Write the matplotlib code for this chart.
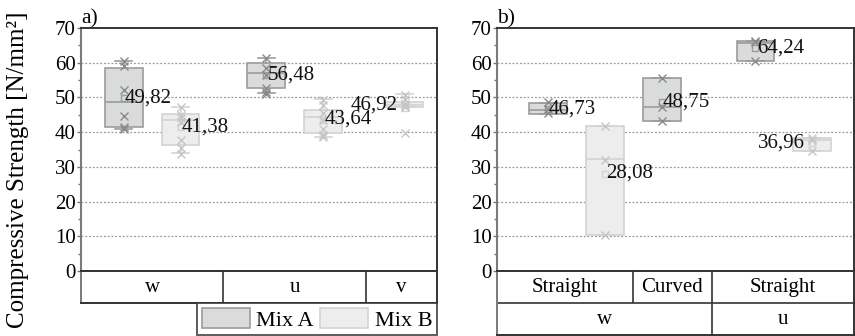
import matplotlib
matplotlib.use("Agg")
import matplotlib.pyplot as plt
from matplotlib.patches import Patch
from matplotlib.ticker import MultipleLocator

plt.rcParams['font.family'] = ['Liberation Serif', 'DejaVu Serif']

# ---------------- data ----------------
mixes = ["Mix A", "Mix B"]

# panel a)
left_groups = ["w", "u", "v"]
left_mix = ["Mix A", "Mix B", "Mix A", "Mix B", "Mix B"]
left_q1 = [41.4, 36.3, 52.6, 39.7, 47.1]
left_med = [48.6, 43.5, 57.1, 44.5, 47.9]
left_q3 = [58.4, 45.2, 59.9, 46.4, 48.8]
left_lo = [41.0, 33.9, 51.2, 38.5, 47.1]
left_hi = [60.6, 47.3, 61.5, 49.5, 51.0]
left_mean = [49.82, 41.38, 56.48, 43.64, 46.92]
left_points = [
    [60.5, 59.0, 52.2, 44.7, 41.4, 41.0],
    [47.2, 45.0, 44.0, 43.0, 37.8, 35.4, 33.7],
    [61.5, 58.4, 56.6, 52.6, 51.5, 51.0],
    [49.3, 47.7, 45.5, 43.5, 41.0, 39.2, 38.5],
    [50.8, 49.5, 48.2, 47.6, 47.1, 39.7],
]

# panel b)
right_row1 = ["Straight", "Curved", "Straight"]
right_row2 = ["w", "u"]
right_mix = ["Mix A", "Mix B", "Mix A", "Mix A", "Mix B"]
right_q1 = [45.3, 10.4, 43.2, 60.4, 34.5]
right_med = [46.4, 32.2, 47.2, 65.8, 37.8]
right_q3 = [48.5, 41.8, 55.7, 66.2, 38.2]
right_mean = [46.73, 28.08, 48.75, 64.24, 36.96]
right_points = [
    [48.8, 46.6, 45.6],
    [41.8, 32.0, 10.4],
    [55.7, 47.3, 43.3],
    [66.3, 65.9, 60.5],
    [38.3, 37.6, 34.6],
]

# ---------------- layout / style ----------------
left_pos = [0.75, 1.75, 3.25, 4.25, 5.68]
left_bounds = [0, 2.5, 5.0, 6.25]
left_label_ha = ["left", "left", "left", "left", "right"]
left_label_dy = [0.0, 0.0, 0.0, 0.0, 1.0]

right_pos = [0.895, 1.895, 2.895, 4.54, 5.53]
right_bounds1 = [0, 2.386, 3.772, 6.27]
right_bounds2 = [0, 3.772, 6.27]
right_label_ha = ["left", "left", "left", "left", "right"]
right_label_dy = [0.0, 0.0, 0.0, 0.0, 0.0]

fill = {"Mix A": "#d9dcdb", "Mix B": "#ededed"}
edge = {"Mix A": "#9c9c9c", "Mix B": "#d3d3d3"}
mark = {"Mix A": "#8a8a8a", "Mix B": "#c6c6c6"}

W, H = 855, 336
fig = plt.figure(figsize=(8.55, 3.36), dpi=100)

FS = 15
dark = "#333333"


def fx(px):
    return px / W


def fy(py):
    return (H - py) / H


def make_panel(rect, pos, bounds, q1, med, q3, lo, hi, mean, pts, mixl, ha_list, dy_list, letter):
    ax = fig.add_axes(rect)
    ax.set_xlim(bounds[0], bounds[-1])
    ax.set_ylim(0, 70)
    for i in range(len(pos)):
        m = mixl[i]
        st = [dict(q1=q1[i], med=med[i], q3=q3[i], whislo=lo[i], whishi=hi[i],
                   mean=mean[i], fliers=[])]
        ax.bxp(st, positions=[pos[i]], widths=0.66, patch_artist=True,
               showmeans=True, showfliers=False, capwidths=[0.3],
               boxprops=dict(facecolor=fill[m], edgecolor=edge[m], linewidth=1.2),
               medianprops=dict(color=edge[m], linewidth=1.2),
               whiskerprops=dict(color=edge[m], linewidth=1.2),
               capprops=dict(color=edge[m], linewidth=1.2),
               meanprops=dict(marker='s', markerfacecolor='none',
                              markeredgecolor=edge[m], markersize=4.5),
               manage_ticks=False)
        ax.plot([pos[i]] * len(pts[i]), pts[i], linestyle='none', marker='x',
                color=mark[m], markersize=6, markeredgewidth=1.0, zorder=4)
        lab = f"{mean[i]:.2f}".replace('.', ',')
        dx = 0.02 if ha_list[i] == "left" else -0.12
        ax.text(pos[i] + dx, mean[i] + dy_list[i], lab, ha=ha_list[i], va='center',
                fontsize=FS, color='#111111', zorder=5)
    ax.set_xticks([])
    ax.yaxis.set_major_locator(MultipleLocator(10))
    ax.yaxis.set_minor_locator(MultipleLocator(5))
    ax.tick_params(axis='y', which='major', length=3, width=1, color='#777777',
                   labelsize=FS, pad=1)
    ax.tick_params(axis='y', which='minor', length=2, width=1, color='#777777')
    for y in range(10, 70, 10):
        ax.axhline(y, color='#9a9a9a', linestyle=(0, (1.5, 1.5)), linewidth=0.9, zorder=0)
    ax.spines['left'].set_color('#7a7a7a')
    ax.spines['left'].set_linewidth(1.5)
    for s in ['top', 'bottom', 'right']:
        ax.spines[s].set_color(dark)
        ax.spines[s].set_linewidth(1.4)
    ax.text(0.0, 1.0, letter, transform=ax.transAxes, ha='left', va='bottom',
            fontsize=15.5)
    return ax


def make_row(ax, bounds, labels, y0, y1):
    for b in bounds[1:-1]:
        ax.vlines(b, y0, y1, color=dark, linewidth=1.2)
    for i, lab in enumerate(labels):
        ax.text((bounds[i] + bounds[i + 1]) / 2, (y0 + y1) / 2 - 0.02, lab,
                ha='center', va='center', fontsize=FS)


def make_table(rect, bounds_list, labels_list):
    ax = fig.add_axes(rect)
    ax.set_xlim(bounds_list[0][0], bounds_list[0][-1])
    n = len(labels_list)
    ax.set_ylim(0, n)
    ax.set_xticks([])
    ax.set_yticks([])
    for s in ax.spines.values():
        s.set_color(dark)
        s.set_linewidth(1.4)
    ax.spines['left'].set_color('#7a7a7a')
    for r in range(n):
        y1 = n - r
        make_row(ax, bounds_list[r], labels_list[r], y1 - 1, y1)
        if r > 0:
            ax.hlines(y1, bounds_list[0][0], bounds_list[0][-1], color=dark, linewidth=1.2)
    return ax


# panel a
axL = make_panel([fx(81), fy(271), fx(437) - fx(81), fy(28) - fy(271)],
                 left_pos, left_bounds, left_q1, left_med, left_q3, left_lo, left_hi,
                 left_mean, left_points, left_mix, left_label_ha, left_label_dy, "a)")
make_table([fx(81), fy(303), fx(437) - fx(81), fy(271) - fy(303)],
           [left_bounds], [left_groups])

# panel b
axR = make_panel([fx(497), fy(271), fx(854) - fx(497), fy(28) - fy(271)],
                 right_pos, right_bounds1, right_q1, right_med, right_q3, right_q1, right_q3,
                 right_mean, right_points, right_mix, right_label_ha, right_label_dy, "b)")
make_table([fx(497), fy(335), fx(854) - fx(497), fy(271) - fy(335)],
           [right_bounds1, right_bounds2], [right_row1, right_row2])

# legend
handles = [Patch(facecolor=fill[m], edgecolor=edge[m], linewidth=1.2, label=m) for m in mixes]
leg = fig.legend(handles=handles, loc='lower right', bbox_to_anchor=(fx(437), fy(335)),
                 ncol=2, frameon=True, fancybox=False, fontsize=16,
                 handlelength=2.15, handleheight=1.05, handletextpad=0.3,
                 columnspacing=0.3, borderpad=0.2, borderaxespad=0.0)
leg.get_frame().set_edgecolor(dark)
leg.get_frame().set_linewidth(1.4)

fig.text(fx(18), fy(170), "Compressive Strength [N/mm²]", rotation=90,
         ha='center', va='center', fontsize=18)

fig.savefig("out.png", dpi=100)
